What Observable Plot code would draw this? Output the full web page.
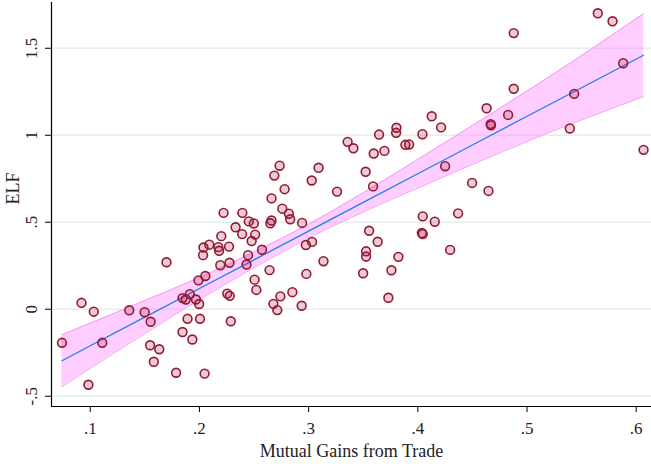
<!DOCTYPE html>
<html>
<head>
<meta charset="utf-8">
<script src="https://cdn.jsdelivr.net/npm/d3@7"></script>
<script src="https://cdn.jsdelivr.net/npm/@observablehq/plot@0.6"></script>
<style>
  html, body { margin: 0; padding: 0; background: #fff; }
  #chart svg { display: block; }
</style>
</head>
<body>
<div id="chart"></div>
<script>
// Mutual Gains from Trade (x) vs ELF (y)
const gains = [
  0.0741, 0.0920, 0.1032, 0.0983, 0.1110, 0.1357, 0.1698, 0.1498, 0.1553, 0.1548,
  0.1632, 0.1582, 0.1786, 0.1845, 0.1875, 0.1912, 0.1968, 0.1997, 0.1891, 0.2005,
  0.1845, 0.1935, 0.2047, 0.1991, 0.2054, 0.2033, 0.2037, 0.2090, 0.2191, 0.2200,
  0.2173, 0.2180, 0.2271, 0.2275, 0.2255, 0.2278, 0.2287, 0.2331, 0.2391, 0.2445,
  0.2431, 0.2452, 0.2498, 0.2478, 0.2510, 0.2505, 0.2521, 0.2573, 0.2642, 0.2660,
  0.2649, 0.2677, 0.2713, 0.2741, 0.2851, 0.2936, 0.2940, 0.2975, 0.2979, 0.3031,
  0.3136, 0.2221, 0.2393, 0.2734, 0.2686, 0.2780, 0.2660, 0.3091, 0.3028, 0.2759,
  0.2819, 0.2831, 0.3357, 0.3410, 0.3596, 0.3694, 0.3886, 0.3920, 0.3645, 0.3804,
  0.3801, 0.4042, 0.4127, 0.4213, 0.3522, 0.3260, 0.3590, 0.4250, 0.4497, 0.4647,
  0.4045, 0.4155, 0.4369, 0.3554, 0.4037, 0.4045, 0.3632, 0.3526, 0.3526, 0.3822,
  0.4296, 0.3499, 0.3758, 0.3730, 0.5648, 0.5783, 0.4878, 0.5881, 0.4878, 0.5432,
  0.4630, 0.4827, 0.4667, 0.4670, 0.5392, 0.6067
];
const elf = [
  -0.193, 0.037, -0.014, -0.434, -0.193, -0.006, 0.270, -0.017, -0.072, -0.207,
  -0.230, -0.302, -0.365, 0.064, 0.056, 0.087, 0.056, 0.030, -0.055, -0.055,
  -0.131, -0.174, -0.370, 0.166, 0.191, 0.311, 0.355, 0.371, 0.253, 0.420,
  0.357, 0.336, 0.360, 0.267, 0.090, 0.077, -0.069, 0.471, 0.432, 0.311,
  0.257, 0.505, 0.493, 0.392, 0.429, 0.170, 0.111, 0.342, 0.225, 0.510,
  0.494, 0.031, -0.005, 0.074, 0.098, 0.020, 0.496, 0.369, 0.203, 0.387,
  0.276, 0.554, 0.554, 0.825, 0.768, 0.690, 0.637, 0.813, 0.740, 0.578,
  0.549, 0.517, 0.962, 0.925, 0.895, 0.910, 0.945, 0.947, 1.004, 1.043,
  1.014, 1.006, 1.109, 1.045, 0.790, 0.676, 0.706, 0.822, 0.726, 0.680,
  0.534, 0.503, 0.551, 0.451, 0.438, 0.432, 0.388, 0.333, 0.303, 0.301,
  0.341, 0.207, 0.224, 0.066, 1.701, 1.655, 1.587, 1.414, 1.267, 1.238,
  1.155, 1.117, 1.064, 1.057, 1.039, 0.916
];

// Fitted line and its confidence band
const fitX  = [0.0741, 0.10, 0.15, 0.20, 0.25, 0.30, 0.35, 0.40, 0.45, 0.50, 0.55, 0.6067];
const fitY  = [-0.296, -0.210, -0.045, 0.119, 0.284, 0.449, 0.614, 0.779, 0.944, 1.109, 1.273, 1.460];
const bandHi = [-0.146, -0.080, 0.050, 0.183, 0.329, 0.489, 0.669, 0.861, 1.056, 1.254, 1.458, 1.698];
const bandLo = [-0.446, -0.340, -0.140, 0.055, 0.239, 0.409, 0.559, 0.697, 0.832, 0.964, 1.088, 1.222];

const xTicks = [0.1, 0.2, 0.3, 0.4, 0.5, 0.6];
const yTicks = [-0.5, 0, 0.5, 1, 1.5];
const xDomain = [0.0645, 0.614];
const yDomain = [-0.559, 1.763];

const data = gains.map((g, i) => ({x: g, y: elf[i]}));
const fit = fitX.map((x, i) => ({x, y: fitY[i], lo: bandLo[i], hi: bandHi[i]}));

const fmt = d => d === 0 ? "0" : String(d).replace(/^(-?)0\./, "$1.");
const font = "'Liberation Serif', 'DejaVu Serif', serif";

const chart = Plot.plot({
  width: 651,
  height: 466,
  marginLeft: 51,
  marginRight: 0,
  marginTop: 2,
  marginBottom: 60,
  style: {fontFamily: font, fontSize: "17px", color: "#222", background: "#fff"},
  x: {domain: xDomain},
  y: {domain: yDomain},
  marks: [
    Plot.gridY(yTicks, {stroke: "#e6eeee", strokeOpacity: 1, strokeWidth: 1.5}),
    Plot.areaY(fit, {x: "x", y1: "lo", y2: "hi", fill: "#ff88ff", fillOpacity: 0.42, curve: "natural"}),
    Plot.line(fit, {x: "x", y: "hi", stroke: "#f49cf4", strokeWidth: 1, curve: "natural"}),
    Plot.line(fit, {x: "x", y: "lo", stroke: "#f49cf4", strokeWidth: 1, curve: "natural"}),
    Plot.line(fit, {x: "x", y: "y", stroke: "#1a80f0", strokeWidth: 1.3}),
    Plot.dot(data, {x: "x", y: "y", r: 4.4, fill: "#a01c3c", fillOpacity: 0.22, stroke: "#951934", strokeWidth: 1.6}),
    Plot.ruleX([xDomain[0]], {stroke: "#000", strokeWidth: 1.2}),
    Plot.ruleY([yDomain[0]], {stroke: "#000", strokeWidth: 1.2}),
    Plot.axisX(xTicks, {tickSize: 6, tickPadding: 9, tickFormat: fmt, fontSize: 17, label: null, stroke: "#000"}),
    Plot.axisY(yTicks, {tickSize: 6, tickFormat: null, text: null, label: null, stroke: "#000"}),
    Plot.text(yTicks, {y: d => d, text: fmt, frameAnchor: "left", dx: -20, rotate: -90, textAnchor: "middle", lineAnchor: "middle", fontSize: 17, fill: "#222"}),
    Plot.text(["Mutual Gains from Trade"], {frameAnchor: "bottom", dy: 50, fontSize: 18, fill: "#222"}),
    Plot.text(["ELF"], {frameAnchor: "left", dx: -38, rotate: -90, fontSize: 18, fill: "#222"})
  ]
});
document.getElementById("chart").append(chart);
</script>
</body>
</html>
